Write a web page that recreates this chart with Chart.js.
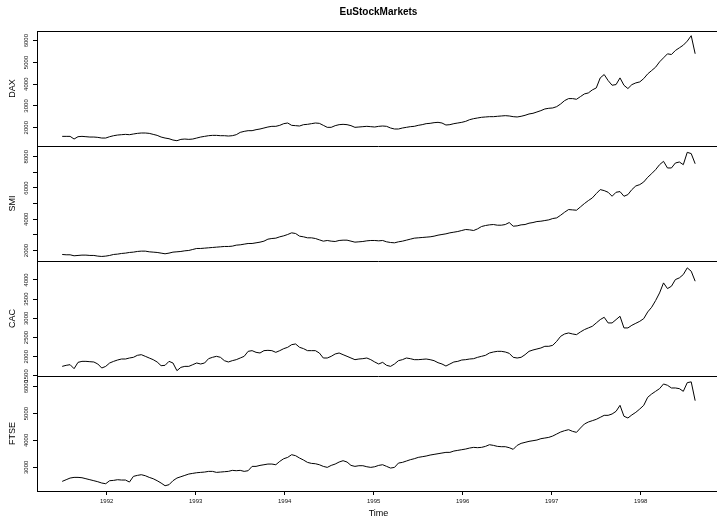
<!DOCTYPE html>
<html><head><meta charset="utf-8">
<script src="https://cdn.jsdelivr.net/npm/chart.js@4/dist/chart.umd.min.js"></script>
<style>html,body{margin:0;padding:0;background:#fff;overflow:hidden;width:717px;height:519px}canvas{display:block}</style>
</head><body>
<canvas id="c" width="720" height="519"></canvas>
<script>
// ---- data ----
const chartTitle = 'EuStockMarkets';
const xTitle = 'Time';
const startYear = 1991.5;      // time of first sample
const stepYear = 0.04445;      // spacing between samples (years)
const yearTicks = [1992, 1993, 1994, 1995, 1996, 1997, 1998];

const dax = [1602,1602,1602,1480,1587,1602,1587,1571,1571,1556,1525,1525,1587,1633,1663,1679,1694,1679,1710,1740,
  1756,1756,1740,1694,1648,1571,1525,1494,1433,1402,1464,1479,1464,1479,1525,1571,1602,1633,1648,1648,
  1633,1633,1617,1633,1679,1786,1832,1863,1863,1909,1940,1986,2032,2063,2063,2109,2186,2216,2109,2094,
  2078,2140,2155,2186,2216,2201,2109,2017,2017,2094,2140,2155,2140,2094,2017,2032,2048,2063,2048,2032,
  2063,2078,2063,1986,1940,1940,1986,2017,2048,2063,2109,2140,2186,2201,2232,2247,2216,2124,2140,2186,
  2216,2247,2293,2370,2416,2447,2478,2493,2508,2508,2524,2539,2554,2539,2508,2493,2524,2570,2631,2662,
  2723,2785,2862,2893,2908,2969,3092,3246,3338,3338,3307,3430,3553,3599,3737,3829,4290,4444,4167,3952,
  3983,4290,3950,3800,3980,4060,4106,4259,4474,4628,4782,5027,5212,5396,5365,5550,5672,5795,5980,6230,
  5400];
const smi = [1748,1727,1727,1663,1685,1706,1706,1685,1685,1642,1621,1642,1685,1748,1770,1812,1834,1876,1897,1940,
  1961,1961,1918,1897,1876,1834,1791,1834,1897,1918,1940,1982,2004,2067,2131,2131,2152,2174,2195,2216,
  2237,2259,2259,2280,2344,2365,2408,2450,2450,2493,2536,2599,2727,2769,2791,2876,2939,3025,3131,3088,
  2918,2876,2812,2812,2769,2684,2599,2642,2599,2578,2642,2663,2663,2599,2536,2557,2578,2620,2642,2642,
  2620,2642,2557,2514,2493,2557,2599,2663,2727,2791,2812,2833,2854,2876,2918,2982,3025,3067,3131,3173,
  3216,3280,3344,3322,3280,3386,3535,3599,3642,3663,3620,3620,3663,3790,3556,3578,3642,3663,3748,3790,
  3854,3875,3918,3961,4046,4088,4259,4450,4620,4599,4577,4790,5003,5194,5364,5641,5896,5832,5726,5471,
  5726,5769,5471,5577,5896,6130,6215,6385,6683,6917,7172,7491,7704,7279,7279,7598,7662,7491,8280,8200,
  7550];
const cac = [1748,1775,1792,1688,1853,1879,1879,1870,1862,1810,1705,1748,1836,1879,1914,1940,1940,1966,1984,2036,
  2053,2010,1966,1923,1862,1766,1775,1879,1836,1636,1722,1748,1748,1792,1836,1810,1836,1949,1984,2010,
  1984,1897,1862,1897,1923,1966,2010,2140,2158,2114,2097,2158,2166,2158,2114,2158,2210,2245,2314,2332,
  2245,2210,2158,2158,2158,2097,1966,1966,2010,2071,2097,2053,2010,1966,1923,1940,1949,1966,1923,1862,
  1810,1853,1775,1748,1810,1897,1923,1966,1949,1923,1923,1931,1940,1923,1897,1844,1810,1757,1810,1862,
  1879,1914,1923,1940,1949,1984,2010,2036,2097,2123,2140,2140,2123,2088,1984,1966,1984,2053,2140,2175,
  2201,2227,2271,2271,2297,2401,2532,2593,2619,2593,2575,2645,2706,2750,2793,2880,2967,3028,2880,2880,
  2967,3054,2750,2750,2819,2871,2923,2993,3167,3289,3463,3663,3924,3776,3837,4011,4055,4142,4316,4229,
  3968];
const ftse = [2476,2538,2600,2625,2625,2612,2575,2538,2501,2463,2414,2389,2501,2513,2538,2526,2526,2451,2662,2699,
  2724,2687,2625,2575,2501,2414,2314,2352,2501,2600,2650,2699,2749,2774,2798,2811,2823,2848,2848,2811,
  2823,2836,2848,2886,2873,2886,2848,2873,3034,3034,3071,3096,3121,3121,3096,3221,3320,3369,3469,3432,
  3345,3270,3183,3146,3133,3096,3034,2997,3071,3121,3196,3246,3196,3071,3034,3059,3059,3021,2997,3021,
  3071,3096,3034,2972,2997,3158,3183,3233,3283,3320,3369,3394,3419,3456,3481,3506,3531,3556,3556,3605,
  3630,3655,3680,3717,3742,3730,3742,3779,3841,3816,3779,3767,3767,3730,3668,3816,3891,3928,3966,3990,
  4015,4065,4089,4114,4164,4239,4313,4363,4400,4338,4301,4462,4611,4686,4735,4785,4859,4934,4934,4984,
  5083,5306,4900,4835,4950,5046,5170,5306,5605,5728,5828,5927,6101,6052,5952,5952,5927,5828,6150,6180,
  5480];

const daxTicks = [2000, 3000, 4000, 5000, 6000];
const smiTicks = [2000, 3000, 4000, 5000, 6000, 7000, 8000];
const smiLabeled = [2000, 4000, 6000, 8000];
const cacTicks = [1500, 2000, 2500, 3000, 3500, 4000];
const ftseTicks = [3000, 4000, 5000, 6000];

// ---- axis ranges ----
const xRange = [1991.2169, 1998.891];
const daxRange = [1159, 6446];
const smiRange = [1330, 8685];
const cacRange = [1497, 4495];
const ftseRange = [2118, 6398];

const FONT = '"Liberation Sans", Arial, Helvetica, sans-serif';

function times(arr) { return arr.map((_, i) => startYear + i * stepYear); }
function pts(arr) { const t = times(arr); return arr.map((v, i) => ({x: t[i], y: v})); }

function yAxis(name, ticks, range, weight, labeled) {
  return {
    type: 'linear', position: 'left', stack: 'panels', stackWeight: 1, weight: weight,
    bounds: 'data', min: range[0], max: range[1],
    afterBuildTicks: s => { s.ticks = ticks.map(v => ({value: v})); },
    afterFit: s => { s.width = 37; },
    grid: {display: true, drawOnChartArea: false, drawTicks: true, tickLength: 4, color: '#000', lineWidth: 1},
    border: {display: true, color: '#000', width: 1},
    ticks: {autoSkip: false, minRotation: 90, maxRotation: 90, crossAlign: 'center', padding: 0,
      font: {family: FONT, size: 6}, color: '#111',
      callback: v => (labeled && !labeled.includes(v)) ? '' : String(v)},
    title: {display: true, text: name, font: {family: FONT, size: 9}, color: '#000', padding: {top: 7, bottom: 0}}
  };
}

function ds(arr, axis) {
  return {data: pts(arr), yAxisID: axis, xAxisID: 'x', borderColor: '#000', borderWidth: 1,
    pointRadius: 0, tension: 0, fill: false};
}

const panelLines = {
  id: 'panelLines',
  afterDraw(chart) {
    const {ctx, chartArea: a} = chart;
    ctx.save();
    ctx.strokeStyle = '#000';
    ctx.lineWidth = 1;
    ['yDAX', 'ySMI', 'yCAC'].forEach(id => {
      const y = Math.round(chart.scales[id].bottom) + 0.5;
      ctx.beginPath(); ctx.moveTo(a.left, y); ctx.lineTo(a.right, y); ctx.stroke();
    });
    ctx.restore();
  }
};

new Chart(document.getElementById('c'), {
  type: 'line',
  data: {datasets: [ds(dax, 'yDAX'), ds(smi, 'ySMI'), ds(cac, 'yCAC'), ds(ftse, 'yFTSE')]},
  options: {
    responsive: false, animation: false, parsing: true,
    layout: {padding: 0},
    plugins: {legend: {display: false}, tooltip: {enabled: false}, title: {display: false}},
    scales: {
      x: {type: 'linear', position: 'bottom', min: xRange[0], max: xRange[1], bounds: 'data',
        afterBuildTicks: s => { s.ticks = yearTicks.map(v => ({value: v})); },
        afterFit: s => { s.height = 28; },
        grid: {drawOnChartArea: false, tickLength: 4, color: '#000'},
        border: {color: '#000'},
        ticks: {autoSkip: false, maxRotation: 0, minRotation: 0, padding: 3,
          font: {family: FONT, size: 6}, color: '#111', callback: v => String(v)},
        title: {display: true, text: xTitle, font: {family: FONT, size: 9}, color: '#000', padding: {top: 0, bottom: 0}}
      },
      x2: {type: 'linear', position: 'top', min: xRange[0], max: xRange[1], bounds: 'data',
        grid: {display: false}, ticks: {display: false},
        border: {display: true, color: '#000'},
        afterFit: s => { s.height = 31; },
        title: {display: true, text: chartTitle, font: {family: FONT, size: 10, weight: 'bold'}, color: '#000', padding: {top: 6, bottom: 0}}
      },
      yDAX: yAxis('DAX', daxTicks, daxRange, 4),
      ySMI: yAxis('SMI', smiTicks, smiRange, 3, smiLabeled),
      yCAC: yAxis('CAC', cacTicks, cacRange, 2),
      yFTSE: yAxis('FTSE', ftseTicks, ftseRange, 1)
    }
  },
  plugins: [panelLines]
});
</script>
</body></html>
